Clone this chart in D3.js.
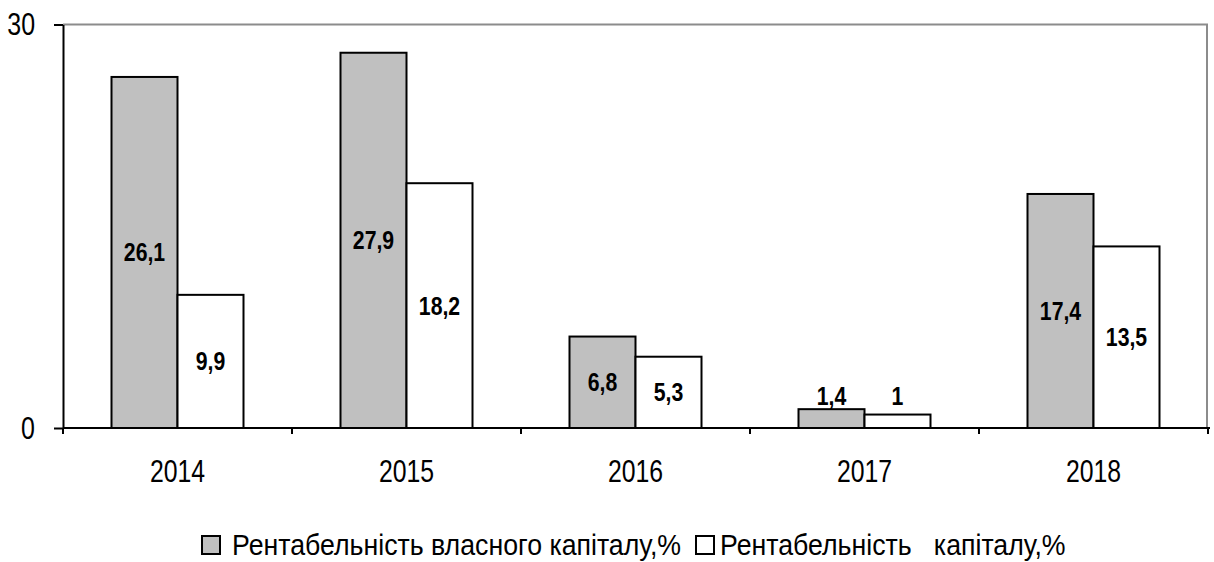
<!DOCTYPE html>
<html>
<head>
<meta charset="utf-8">
<script src="https://cdn.jsdelivr.net/npm/d3@7"></script>
<style>
  body { margin: 0; background: #fff; }
  text { font-family: "Liberation Sans Narrow", "Arial Narrow", "Liberation Sans", sans-serif; }
</style>
</head>
<body>
<script>
var width  = 1214,
    height = 562;

// data
var years  = ['2014', '2015', '2016', '2017', '2018'];
var series = ['Рентабельність власного капіталу,%', 'Рентабельність   капіталу,%'];
var equityRoe  = [26.1, 27.9, 6.8, 1.4, 17.4];
var capitalRoe = [9.9, 18.2, 5.3, 1, 13.5];
var yTicks = [0, 30];
var labels = [
  ['26,1', '27,9', '6,8', '1,4', '17,4'],
  ['9,9', '18,2', '5,3', '1', '13,5']
];
var fills = ['#c0c0c0', '#ffffff'];

var svg = d3.select('body').append('svg')
    .attr('width', width)
    .attr('height', height);

var plotLeft = 63, plotRight = 1208, plotTop = 24.5, plotBottom = 428;

// squeeze text horizontally (narrow font look)
function narrow(sel, k) {
  sel.each(function() {
    var w = this.getComputedTextLength();
    d3.select(this)
        .attr('textLength', w * k)
        .attr('lengthAdjust', 'spacingAndGlyphs');
  });
}

var x = d3.scaleBand()
    .domain(years)
    .range([plotLeft, plotRight]);

var groupW = 132;
var x1 = d3.scaleBand()
    .domain([0, 1])
    .range([(x.bandwidth() - groupW) / 2, (x.bandwidth() + groupW) / 2]);

var y = d3.scaleLinear()
    .domain([0, 30])
    .range([plotBottom, plotTop]);

// frame (gray top & right)
svg.append('path')
    .attr('d', 'M' + plotLeft + ',' + plotTop + 'H' + (plotRight - 1) + 'V' + plotBottom)
    .attr('fill', 'none')
    .attr('stroke', '#8c8c8c')
    .attr('stroke-width', 2);

var rows = years.map(function(yr, i) {
  return {year: yr, values: [equityRoe[i], capitalRoe[i]], i: i};
});

var groups = svg.selectAll('g.year')
    .data(rows)
  .enter().append('g')
    .attr('class', 'year')
    .attr('transform', function(d) { return 'translate(' + x(d.year) + ',0)'; });

groups.selectAll('rect')
    .data(function(d) { return d.values.map(function(v, s) { return {v: v, s: s, i: d.i}; }); })
  .enter().append('rect')
    .attr('x', function(d) { return x1(d.s); })
    .attr('y', function(d) { return y(d.v); })
    .attr('width', x1.bandwidth())
    .attr('height', function(d) { return y(0) - y(d.v); })
    .attr('fill', function(d) { return fills[d.s]; })
    .attr('stroke', '#000')
    .attr('stroke-width', 2);

groups.selectAll('text.lbl')
    .data(function(d) { return d.values.map(function(v, s) { return {v: v, s: s, i: d.i}; }); })
  .enter().append('text')
    .attr('class', 'lbl')
    .attr('x', function(d) { return x1(d.s) + x1.bandwidth() / 2; })
    .attr('y', function(d) {
      var mid = (y(d.v) + y(0)) / 2;
      // tiny bars: label sits above
      return y(0) - y(d.v) < 30 ? y(0) - 32 : mid;
    })
    .attr('dy', '0.36em')
    .attr('text-anchor', 'middle')
    .style('font-size', '25px')
    .style('font-weight', 'bold')
    .text(function(d) { return labels[d.s][d.i]; })
    .call(narrow, 0.85);

// y axis
var yAxis = svg.append('g')
    .attr('transform', 'translate(' + plotLeft + ',0)')
    .call(d3.axisLeft(y).tickValues(yTicks).tickSize(9).tickPadding(19).tickSizeOuter(0));
yAxis.select('.domain').attr('stroke', '#000').attr('stroke-width', 2);
yAxis.selectAll('.tick line').attr('stroke', '#000').attr('stroke-width', 2);
yAxis.selectAll('.tick text')
    .attr('fill', '#000')
    .style('font-size', '32px')
    .style('font-family', '"Liberation Sans Narrow", "Arial Narrow", "Liberation Sans", sans-serif')
    .call(narrow, 0.78);

// x axis
var xAxis = svg.append('g')
    .attr('transform', 'translate(0,' + plotBottom + ')')
    .call(d3.axisBottom(x).tickSize(0).tickPadding(42.5).tickSizeOuter(0));
xAxis.select('.domain').remove();
xAxis.append('line')
    .attr('x1', plotLeft).attr('x2', plotRight + 2)
    .attr('stroke', '#000').attr('stroke-width', 2);
xAxis.selectAll('line.sep')
    .data(years.map(function(d) { return x(d); }).concat([plotRight]))
  .enter().append('line')
    .attr('class', 'sep')
    .attr('x1', function(d) { return d; })
    .attr('x2', function(d) { return d; })
    .attr('y1', 0).attr('y2', 6)
    .attr('stroke', '#000').attr('stroke-width', 2);
xAxis.selectAll('.tick text')
    .attr('fill', '#000')
    .attr('dy', '0.36em')
    .style('font-size', '31px')
    .style('font-family', '"Liberation Sans Narrow", "Arial Narrow", "Liberation Sans", sans-serif')
    .call(narrow, 0.8);

// legend
var legendX = [202, 696];
var legend = svg.selectAll('g.legend')
    .data(series)
  .enter().append('g')
    .attr('class', 'legend')
    .attr('transform', function(d, i) { return 'translate(' + legendX[i] + ',536)'; });

legend.append('rect')
    .attr('width', 18).attr('height', 18)
    .attr('fill', function(d, i) { return fills[i]; })
    .attr('stroke', '#000').attr('stroke-width', 2);

legend.append('text')
    .attr('x', function(d, i) { return i ? 24 : 30; })
    .attr('y', 19)
    .style('font-size', '30px')
    .style('white-space', 'pre')
    .text(function(d) { return d; })
    .call(narrow, 0.89);
</script>
</body>
</html>
